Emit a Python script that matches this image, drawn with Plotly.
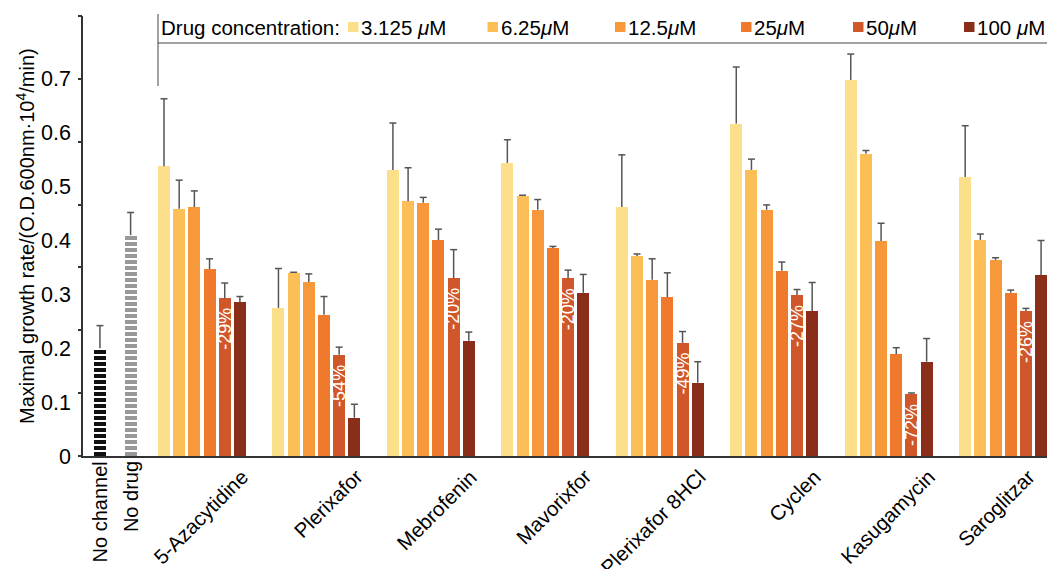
import plotly.graph_objects as go

# ---------------- data ----------------
drugs = ["5-Azacytidine", "Plerixafor", "Mebrofenin", "Mavorixfor",
         "Plerixafor 8HCl", "Cyclen", "Kasugamycin", "Saroglitzar"]
conc_labels = ["3.125 <i>μ</i>M", "6.25<i>μ</i>M", "12.5<i>μ</i>M",
               "25<i>μ</i>M", "50<i>μ</i>M", "100 <i>μ</i>M"]
conc_colors = ["#FCDF8A", "#FCBE56", "#F7983A", "#F07A2B", "#D0572A", "#8A2E1A"]

c3125 = [0.538, 0.275, 0.531, 0.544, 0.462, 0.617, 0.698, 0.518]
c625 = [0.459, 0.340, 0.473, 0.483, 0.371, 0.531, 0.561, 0.401]
c125 = [0.462, 0.323, 0.470, 0.457, 0.327, 0.457, 0.399, 0.364]
c25 = [0.347, 0.262, 0.401, 0.386, 0.295, 0.344, 0.189, 0.303]
c50 = [0.293, 0.188, 0.330, 0.330, 0.210, 0.299, 0.116, 0.269]
c100 = [0.286, 0.071, 0.214, 0.303, 0.136, 0.269, 0.175, 0.336]

e3125 = [0.125, 0.073, 0.087, 0.043, 0.097, 0.105, 0.048, 0.095]
e625 = [0.053, 0.001, 0.062, 0.001, 0.004, 0.020, 0.006, 0.011]
e125 = [0.030, 0.015, 0.010, 0.019, 0.039, 0.009, 0.033, 0.004]
e25 = [0.019, 0.034, 0.020, 0.003, 0.045, 0.016, 0.012, 0.005]
e50 = [0.028, 0.014, 0.053, 0.015, 0.021, 0.010, 0.001, 0.005]
e100 = [0.010, 0.025, 0.016, 0.034, 0.039, 0.053, 0.043, 0.064]

pct_labels = ["-29%", "-54%", "-20%", "-20%", "-49%", "-27%", "-72%", "-26%"]
pct_series = 4  # labels sit on the 50 uM bars

controls = ["No channel", "No drug"]
control_vals = [0.200, 0.410]
control_errs = [0.042, 0.042]
control_colors = ["#111111", "#999999"]

y_tick_vals = [0, 0.1, 0.2, 0.3, 0.4, 0.5, 0.6, 0.7]
y_tick_text = ["0", "0.1", "0.2", "0.3", "0.4", "0.5", "0.6", "0.7"]
y_title = "Maximal growth rate/(O.D.600nm·10<sup>4</sup>/min)"

series = [c3125, c625, c125, c25, c50, c100]
errors = [e3125, e625, e125, e25, e50, e100]

# ---------------- layout constants ----------------
W, H = 1047, 569
ML, MR, MT, MB = 83, 0, 16, 113
PW, PH = W - ML - MR, H - MT - MB
X0, X1 = -5.336, 58.17
YMAX = 0.7 * 7 / 6
GROUP_PITCH = 7.54
BAR_W = 0.79
CAP = 0.23
control_x = [-4.22, -2.2]
FONT = "Liberation Sans, Arial, Helvetica, sans-serif"
ERR_COLOR = "#555555"


def px_x(px):
    # pixel -> paper coordinate
    return (px - ML) / PW


def px_y(py):
    return (MT + PH - py) / PH


def dx_paper(x):
    # x data value -> paper coordinate (works outside the axis range too)
    return (x - X0) / (X1 - X0)


fig = go.Figure()


def add_errs(xs, vals, errs):
    ex, ey = [], []
    for x, v, e in zip(xs, vals, errs):
        top = v + e
        ex += [x, x, None, x - CAP, x + CAP, None]
        ey += [v, top, None, top, top, None]
    fig.add_trace(go.Scatter(x=ex, y=ey, mode="lines",
                             line=dict(color=ERR_COLOR, width=1.5),
                             hoverinfo="skip", showlegend=False))


# controls
for i, name in enumerate(controls):
    fig.add_trace(go.Bar(
        x=[control_x[i]], y=[control_vals[i]], width=BAR_W,
        marker=dict(color=control_colors[i], line_width=0,
                    pattern=dict(shape="-", fgcolor="white",
                                 bgcolor=control_colors[i], size=6,
                                 solidity=0.33, fillmode="replace")),
        showlegend=False, name=name))
add_errs(control_x, control_vals, control_errs)

# drug series
for j, (vals, errs) in enumerate(zip(series, errors)):
    xs = [k * GROUP_PITCH + j for k in range(len(drugs))]
    fig.add_trace(go.Bar(x=xs, y=vals, width=BAR_W,
                         marker=dict(color=conc_colors[j], line_width=0),
                         showlegend=False, name=conc_labels[j]))
    add_errs(xs, vals, errs)

# dummy trace for the secondary tick axis
fig.add_trace(go.Scatter(x=[X0], y=[0], yaxis="y2", mode="markers",
                         marker=dict(opacity=0), hoverinfo="skip",
                         showlegend=False))

annotations = []
# y-axis title
annotations.append(dict(
    x=px_x(25), y=0.5, xref="paper", yref="paper", text=y_title,
    showarrow=False, textangle=-90, xanchor="center", yanchor="middle",
    font=dict(family=FONT, size=20, color="black")))

# percent labels
for k, t in enumerate(pct_labels):
    annotations.append(dict(
        x=k * GROUP_PITCH + pct_series, y=series[pct_series][k],
        xref="x", yref="y", text=t, showarrow=False, textangle=-90,
        xanchor="center", yanchor="top", yshift=-8,
        font=dict(family=FONT, size=18, color="white")))

# drug category labels
for k, d in enumerate(drugs):
    lx = min(dx_paper(k * GROUP_PITCH + 5 + BAR_W / 2 + 0.62), px_x(1042))
    annotations.append(dict(
        x=lx, y=0, xref="paper", yref="paper",
        text=d, showarrow=False, textangle=-45,
        xanchor="right", yanchor="top", yshift=-6,
        font=dict(family=FONT, size=20.5, color="black")))

# control labels
for i, name in enumerate(controls):
    annotations.append(dict(
        x=control_x[i], y=0, xref="x", yref="paper",
        text=name, showarrow=False, textangle=-90,
        xanchor="center", yanchor="top", yshift=-3,
        font=dict(family=FONT, size=20, color="black")))

# legend
LEG_SQ_X = [348, 487.5, 615, 741, 853, 964]
LEG_Y = 27
annotations.append(dict(
    x=px_x(159), y=px_y(LEG_Y), xref="paper", yref="paper",
    text="Drug concentration:", showarrow=False,
    xanchor="left", yanchor="middle",
    font=dict(family=FONT, size=20.5, color="black")))
shapes = []
for j, lab in enumerate(conc_labels):
    sx = LEG_SQ_X[j]
    shapes.append(dict(type="rect", xref="paper", yref="paper",
                       x0=px_x(sx), x1=px_x(sx + 10.5),
                       y0=px_y(LEG_Y - 5), y1=px_y(LEG_Y + 5),
                       fillcolor=conc_colors[j], line_width=0))
    annotations.append(dict(
        x=px_x(sx + 11), y=px_y(LEG_Y), xref="paper", yref="paper",
        text=lab, showarrow=False, xanchor="left", yanchor="middle",
        font=dict(family=FONT, size=20.5, color="black")))

# bracket lines
shapes.append(dict(type="line", xref="x", yref="paper",
                   x0=-BAR_W / 2, x1=-BAR_W / 2,
                   y0=px_y(14), y1=px_y(86),
                   line=dict(color="#444444", width=1)))
shapes.append(dict(type="line", xref="x", yref="paper",
                   x0=-BAR_W / 2, x1=X1,
                   y0=px_y(43), y1=px_y(43),
                   line=dict(color="#444444", width=1)))

fig.update_layout(
    width=W, height=H,
    margin=dict(l=ML, r=MR, t=MT, b=MB, autoexpand=False),
    paper_bgcolor="white", plot_bgcolor="white",
    font=dict(family=FONT, size=20, color="black"),
    barmode="overlay", bargap=0,
    xaxis=dict(range=[X0, X1], showgrid=False, zeroline=False,
               showticklabels=False, ticks="", showline=True,
               linecolor="#333333", linewidth=1.5),
    yaxis=dict(range=[0, YMAX], tickvals=y_tick_vals, ticktext=y_tick_text,
               ticks="", showgrid=False, zeroline=False, showline=True,
               linecolor="#333333", linewidth=1.5, ticklabelstandoff=6,
               tickfont=dict(family=FONT, size=21.5, color="black")),
    yaxis2=dict(range=[0, YMAX], overlaying="y", side="left", anchor="x",
                tickvals=[k * 0.7 / 6 for k in range(8)], ticks="outside",
                ticklen=4, tickwidth=1.5, tickcolor="#333333",
                showticklabels=False, showgrid=False, zeroline=False,
                showline=False),
    annotations=annotations, shapes=shapes,
    showlegend=False,
)

fig.write_html(
    "out.html",
    config={"displayModeBar": False},
    post_script="document.body.style.margin='0px';"
                "document.body.style.overflow='hidden';",
)
